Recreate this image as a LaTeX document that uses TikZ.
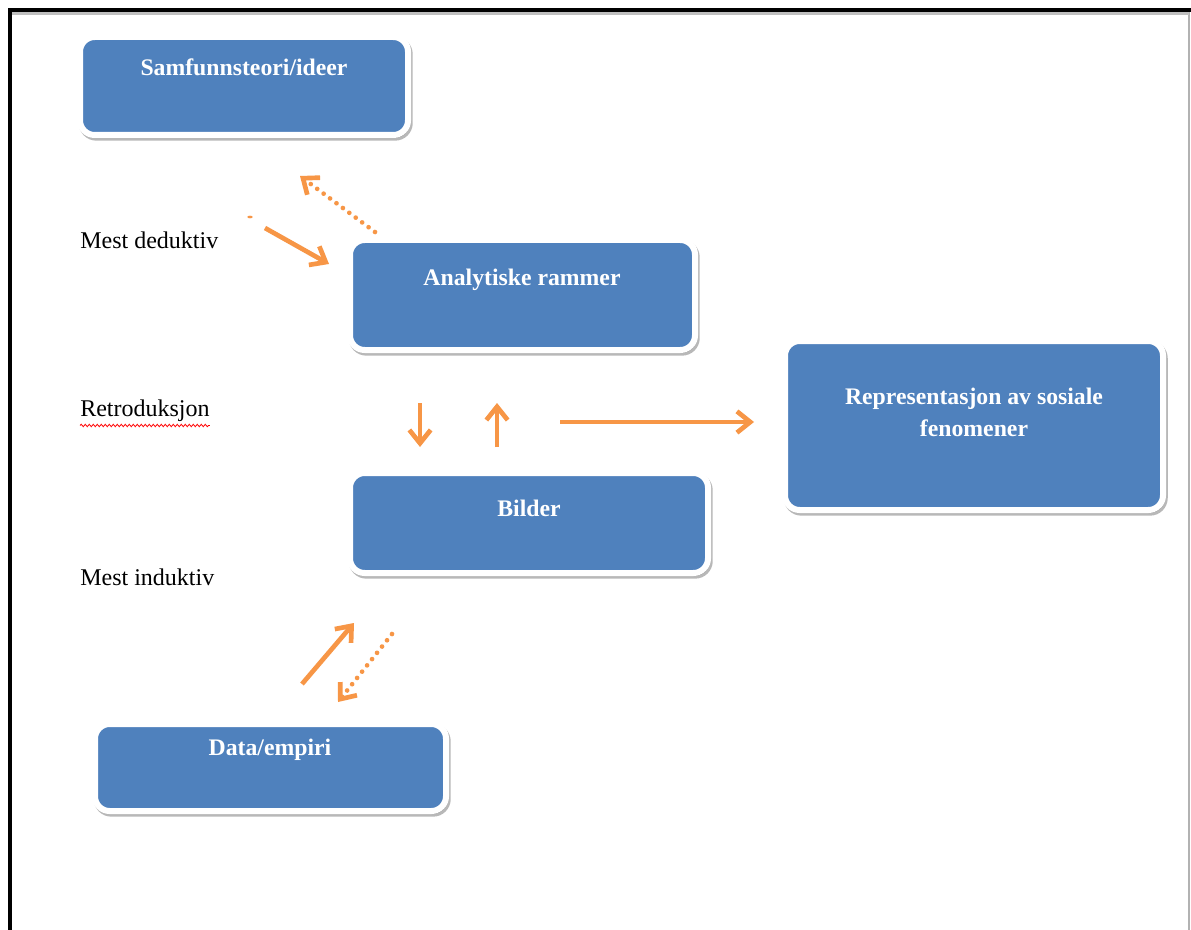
\documentclass[tikz,border=0pt]{standalone}
\usepackage{fontspec}
\setmainfont{Liberation Serif}
\usetikzlibrary{arrows.meta,shadows,decorations.pathmorphing}
\definecolor{boxblue}{HTML}{4F81BD}
\definecolor{arrorange}{HTML}{F79646}
\tikzset{
  box/.style={draw=white, line width=4.5pt, fill=boxblue, rounded corners=11pt,
    drop shadow={shadow xshift=1.3pt, shadow yshift=-2pt, opacity=0.28, fill=black, draw=black, line width=4.5pt}},
  boxtext/.style={text=white, font=\fontsize{17.8}{24}\selectfont\bfseries, align=center},
  lbl/.style={anchor=west, font=\fontsize{18}{20}\selectfont, inner sep=0pt},
  arr/.style={draw=arrorange, line width=3.5pt, -{Straight Barb[length=10pt,width=16pt,line width=3.5pt]}},
  dotarr/.style={arr, dash pattern=on 0.01pt off 6pt, line cap=round}
}
\begin{document}
\begin{tikzpicture}[x=0.75pt,y=-0.75pt]
\useasboundingbox (0,0) rectangle (1191,930);
\fill[white] (0,0) rectangle (1191,930);
% frame
\draw[black!30, line width=2pt] (1189,12) -- (1189,935);
\draw[black!25, line width=2.5pt] (12,13.5) -- (1189,13.5);
\draw[black, line width=3.5pt] (10,935) -- (10,10) -- (1191,10);
% boxes
\node[box, minimum width=246pt, minimum height=73.5pt] (samf) at (244,86) {};
\node[box, minimum width=258.75pt, minimum height=82.5pt] (anal) at (522.5,295) {};
\node[box, minimum width=268.5pt, minimum height=75pt] (bild) at (529,523) {};
\node[box, minimum width=283.5pt, minimum height=126.75pt] (repr) at (974,425.5) {};
\node[box, minimum width=263.25pt, minimum height=65.25pt] (data) at (270.5,767.5) {};
% box texts
\node[boxtext] (samft) at (244,67) {Samfunnsteori/ideer};
\node[boxtext] (analt) at (522,280) {Analytiske rammer};
\node[boxtext] (bildt) at (529,508) {Bilder};
\node[boxtext] (reprt) at (974,412) {Representasjon av sosiale\\fenomener};
\node[boxtext] (datat) at (270,750) {Data/empiri};
% labels
\node[lbl] (ded) at (80,240) {Mest deduktiv};
\node[lbl] (retro) at (80,411) {Retroduksjon};
\node[lbl] (ind) at (80,577) {Mest induktiv};
\draw[red, line width=0.6pt, decorate, decoration={snake, amplitude=0.9pt, segment length=3pt}]
  ([yshift=-2.5pt]retro.south west) -- ([yshift=-2.5pt]retro.south east);
% arrow coordinates
\coordinate (d1s) at (375,232); \coordinate (d1e) at (300,176);
\coordinate (a1s) at (265,228); \coordinate (a1e) at (329,264);
\coordinate (dn1) at (420,403); \coordinate (dn2) at (420,447);
\coordinate (up1) at (497,447); \coordinate (up2) at (497,403);
\coordinate (r1) at (560,422);  \coordinate (r2) at (754,422);
\coordinate (a2s) at (302,684); \coordinate (a2e) at (354,623);
\coordinate (d2s) at (392,634); \coordinate (d2e) at (338,702);
\coordinate (dot) at (250,217);
% arrows
\draw[dotarr] (d1s) -- (d1e);
\draw[arr] (a1s) -- (a1e);
\draw[arr] (dn1) -- (dn2);
\draw[arr] (up1) -- (up2);
\draw[arr] (r1) -- (r2);
\draw[arr] (a2s) -- (a2e);
\draw[dotarr] (d2s) -- (d2e);
\fill[arrorange] (dot) ellipse (2pt and 1pt);
\end{tikzpicture}
\end{document}
